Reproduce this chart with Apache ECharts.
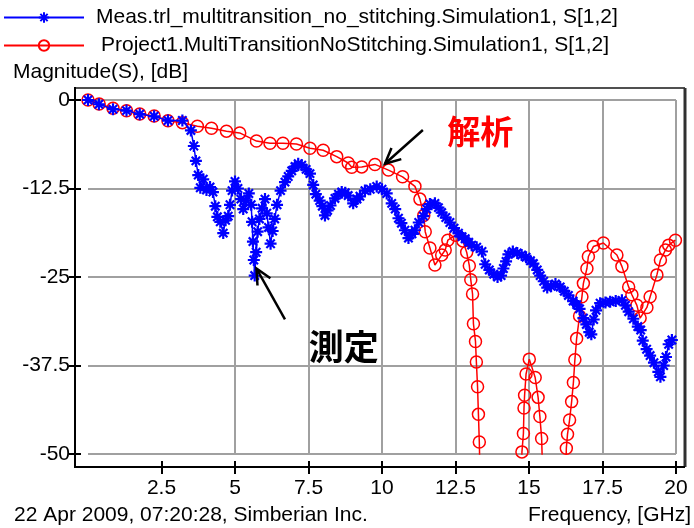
<!DOCTYPE html>
<html><head><meta charset="utf-8">
<script src="https://cdn.jsdelivr.net/npm/echarts@6/dist/echarts.min.js"></script>
<style>html,body{margin:0;padding:0;background:#fff}#c{width:694px;height:528px}</style>
</head><body><div id="c"></div>
<script>
// ---------- data ----------
const measName = 'Meas.trl_multitransition_no_stitching.Simulation1, S[1,2]';
const simName = 'Project1.MultiTransitionNoStitching.Simulation1, S[1,2]';
const measFreq = [0.00,0.37,0.85,1.31,1.76,2.25,2.72,3.21,3.50,3.60,3.67,3.75,3.82,3.92,4.03,4.15,4.25,4.33,4.40,4.50,4.60,4.68,4.77,4.83,4.90,5.00,5.10,5.20,5.28,5.38,5.47,5.55,5.58,5.61,5.64,5.67,5.72,5.77,5.83,5.92,6.02,6.08,6.14,6.21,6.28,6.35,6.43,6.55,6.70,6.81,6.93,7.04,7.15,7.27,7.42,7.55,7.66,7.75,7.88,7.97,8.06,8.15,8.25,8.40,8.52,8.63,8.75,8.85,9.02,9.15,9.25,9.42,9.60,9.82,10.00,10.16,10.33,10.45,10.56,10.66,10.78,10.90,11.02,11.12,11.25,11.41,11.52,11.63,11.80,11.92,12.03,12.17,12.31,12.45,12.60,12.72,12.83,12.95,13.05,13.22,13.40,13.51,13.65,13.80,13.93,14.05,14.13,14.22,14.30,14.45,14.60,14.75,14.90,15.05,15.15,15.28,15.38,15.50,15.62,15.75,15.90,16.06,16.20,16.34,16.50,16.62,16.72,16.85,16.95,17.05,17.12,17.20,17.28,17.42,17.60,17.76,17.95,18.16,18.28,18.39,18.55,18.70,18.80,18.87,19.00,19.12,19.25,19.40,19.47,19.58,19.66,19.75,19.86];
const measMag = [0.0,-0.6,-1.3,-1.5,-2.0,-2.3,-2.9,-2.9,-4.3,-6.5,-8.6,-10.6,-12.4,-11.2,-12.7,-12.3,-13.0,-15.0,-16.5,-17.2,-18.8,-17.0,-16.4,-14.8,-12.8,-11.5,-12.5,-14.0,-15.4,-14.2,-13.2,-14.8,-17.2,-20.0,-22.6,-24.8,-21.5,-18.6,-16.8,-15.3,-14.0,-16.0,-18.0,-20.3,-18.5,-16.8,-14.8,-12.8,-11.6,-10.8,-10.0,-9.4,-9.0,-9.2,-9.8,-10.4,-12.0,-13.3,-14.2,-15.0,-16.3,-15.6,-14.9,-13.9,-13.3,-13.0,-13.1,-13.5,-14.6,-14.0,-13.6,-12.8,-12.6,-12.2,-12.6,-13.2,-14.6,-15.4,-16.7,-17.4,-18.4,-19.5,-18.9,-18.4,-17.3,-16.4,-15.4,-14.7,-14.6,-15.2,-15.9,-16.6,-17.3,-18.1,-18.8,-19.3,-19.6,-20.1,-20.5,-20.8,-21.4,-23.2,-24.0,-24.6,-25.0,-24.8,-23.8,-22.8,-21.8,-21.4,-21.6,-21.9,-22.2,-22.7,-23.1,-24.0,-24.8,-25.6,-26.5,-26.3,-26.0,-26.4,-27.0,-27.6,-28.4,-28.9,-29.5,-30.8,-31.7,-32.8,-33.1,-31.0,-29.7,-28.7,-28.6,-28.5,-28.4,-28.3,-29.0,-29.9,-30.9,-32.0,-32.5,-34.0,-35.2,-36.1,-37.1,-38.4,-39.1,-37.5,-36.3,-34.5,-33.9];
const simFreq = [0.00,0.38,0.85,1.31,1.76,2.25,2.72,3.21,3.72,4.20,4.71,5.16,5.73,6.19,6.63,7.09,7.55,8.00,8.46,8.85,8.97,9.31,9.76,10.22,10.70,11.12,11.29,11.42,11.47,11.63,11.80,12.03,12.15,12.24,12.50,12.75,12.88,12.97,13.02,13.08,13.11,13.18,13.21,13.25,13.28,13.31,13.36,14.72,14.76,14.81,14.83,14.85,14.90,15.01,15.21,15.31,15.37,15.43,15.50,16.22,16.27,16.31,16.38,16.45,16.51,16.56,16.62,16.72,16.80,16.85,16.97,17.02,17.19,17.53,17.99,18.16,18.39,18.50,18.67,18.78,19.01,19.12,19.35,19.47,19.64,19.75,19.98];
const simMag = [0.0,-0.56,-1.17,-1.51,-1.98,-2.26,-2.92,-3.2,-3.7,-4.0,-4.4,-4.65,-5.8,-6.12,-6.12,-6.21,-6.82,-7.1,-8.0,-8.9,-9.5,-9.45,-9.1,-9.9,-10.85,-12.2,-14.0,-16.3,-18.6,-20.9,-23.3,-21.9,-21.2,-19.8,-19.1,-19.9,-21.5,-23.4,-25.4,-27.4,-31.6,-34.1,-37.0,-40.5,-44.4,-48.3,-58,-58,-49.7,-47.1,-43.5,-41.7,-38.7,-36.6,-39.2,-42.0,-44.7,-47.8,-58,-58,-49.2,-47.2,-45.2,-42.6,-39.9,-36.7,-33.7,-30.5,-27.8,-25.9,-23.8,-22.1,-20.7,-20.2,-21.9,-23.5,-26.4,-27.5,-29.0,-30.8,-29.3,-27.8,-24.7,-22.6,-21.2,-20.5,-19.8];
const xTicks = [2.5,5,7.5,10,12.5,15,17.5,20];
const yTicks = [0,-12.5,-25,-37.5,-50];
const yAxisTitle = 'Magnitude(S), [dB]';
const xAxisTitle = 'Frequency, [GHz]';
const footerText = '22 Apr 2009, 07:20:28, Simberian Inc.';
const noteSimText = '解析';
const noteSimLabel = [13.34, -4.4];
const noteSimArrow = [[11.39, -4.24], [10.1, -9.0]];
const noteMeasText = '測定';
const noteMeasLabel = [8.7, -34.9];
const noteMeasArrow = [[6.70, -31.0], [5.73, -23.8]];

// ---------- chart ----------
const FONT = 'Liberation Sans';
const FS = 21;
const chart = echarts.init(document.getElementById('c'), null, {renderer: 'canvas'});
const pair = (xs, ys) => xs.map((x, i) => [x, ys[i]]);
const star = 'path://M5,0L5,10M0,5L10,5M1.5,1.5L8.5,8.5M1.5,8.5L8.5,1.5';
const tickStyle = {color: '#000', width: 2};
const txt = {fontSize: FS, fontWeight: 'normal', color: '#000', fontFamily: FONT};
chart.setOption({
  animation: false,
  backgroundColor: '#fff',
  textStyle: {fontFamily: FONT},
  title: [
    {text: yAxisTitle, left: 13, top: 62, padding: 0, textStyle: txt},
    {text: footerText, left: 14, top: 505, padding: 0, textStyle: txt},
    {text: xAxisTitle, right: 3, top: 505, padding: 0, textStyle: txt}
  ],
  legend: [
    {data: [measName], left: 3, top: 7, padding: 0, itemWidth: 80, itemHeight: 13,
     textStyle: Object.assign({}, txt, {padding: [0,0,0,7]})},
    {data: [simName], left: 3, top: 35, padding: 0, itemWidth: 80, itemHeight: 13,
     textStyle: Object.assign({}, txt, {padding: [0,0,0,12]})}
  ],
  grid: {left: 88, right: 18, top: 100, bottom: 74, containLabel: false},
  xAxis: [
    {type: 'value', min: 0, max: 20, interval: 2.5, offset: 13, position: 'bottom',
      axisLine: {show: false, onZero: false},
      axisTick: {show: true, customValues: xTicks, length: 7, lineStyle: tickStyle},
      axisLabel: {customValues: xTicks, color: '#000', fontSize: FS, margin: 11, fontFamily: FONT},
      splitLine: {show: true, showMinLine: false, lineStyle: {color: '#a0a0a0', width: 2}}},
    {type: 'value', min: 0, max: 20, interval: 2.5, offset: 13, position: 'bottom',
      axisLine: {show: false, onZero: false},
      axisTick: {show: true, inside: true, customValues: xTicks, length: 6, lineStyle: tickStyle},
      axisLabel: {show: false}, splitLine: {show: false}}
  ],
  yAxis: [
    {type: 'value', min: -50, max: 0, interval: 12.5, offset: 13, position: 'left',
      axisLine: {show: false, onZero: false},
      axisTick: {show: true, customValues: yTicks, length: 6, lineStyle: tickStyle},
      axisLabel: {customValues: yTicks, color: '#000', fontSize: FS, margin: 5, fontFamily: FONT},
      splitLine: {show: true, lineStyle: {color: '#a0a0a0', width: 2}}},
    {type: 'value', min: -50, max: 0, interval: 12.5, offset: 13, position: 'left',
      axisLine: {show: false, onZero: false},
      axisTick: {show: true, inside: true, customValues: yTicks, length: 6, lineStyle: tickStyle},
      axisLabel: {show: false}, splitLine: {show: false}}
  ],
  series: [
    {name: simName, type: 'line', xAxisIndex: 0, yAxisIndex: 0, clip: true, z: 2,
     data: pair(simFreq, simMag), symbol: 'circle', symbolSize: 12, showAllSymbol: true,
     lineStyle: {color: '#ff0000', width: 1.5},
     itemStyle: {color: 'rgba(255,255,255,0)', borderColor: '#ff0000', borderWidth: 1.5}},
    {name: measName, type: 'line', xAxisIndex: 0, yAxisIndex: 0, clip: true, z: 3,
     data: pair(measFreq, measMag), symbol: star, symbolSize: 12, showAllSymbol: true,
     lineStyle: {color: '#0000ff', width: 1.5},
     itemStyle: {color: '#0000ff', borderColor: '#0000ff', borderWidth: 2.2}}
  ]
});

function px(p) { return chart.convertToPixel({gridIndex: 0}, p); }
const tl = px([0, 0]), br = px([20, -50]);
const L = tl[0] - 13, T = tl[1] - 12, R = br[0] + 9, B = br[1] + 13;
function arrow(tail, tip, color) {
  const a = px(tail), b = px(tip);
  const ang = Math.atan2(a[1] - b[1], a[0] - b[0]);
  const len = 17, spread = 0.45;
  const p1 = [b[0] + len * Math.cos(ang + spread), b[1] + len * Math.sin(ang + spread)];
  const p2 = [b[0] + len * Math.cos(ang - spread), b[1] + len * Math.sin(ang - spread)];
  return [
    {type: 'line', shape: {x1: a[0], y1: a[1], x2: b[0], y2: b[1]}, style: {stroke: color, lineWidth: 2.5}, z: 20},
    {type: 'polyline', shape: {points: [p1, b, p2]}, style: {stroke: color, lineWidth: 2.5, fill: null}, z: 20}
  ];
}
const sl = px(noteSimLabel), ml = px(noteMeasLabel);
chart.setOption({
  graphic: [
    {type: 'line', shape: {x1: L, y1: T, x2: R, y2: T}, style: {stroke: '#505050', lineWidth: 2}, z: 10},
    {type: 'line', shape: {x1: R, y1: T, x2: R, y2: B}, style: {stroke: '#303030', lineWidth: 3}, z: 10},
    {type: 'line', shape: {x1: L, y1: T - 1, x2: L, y2: B}, style: {stroke: '#000', lineWidth: 2}, z: 10},
    {type: 'line', shape: {x1: L - 1, y1: B, x2: R, y2: B}, style: {stroke: '#000', lineWidth: 2}, z: 10},
    ...arrow(noteSimArrow[0], noteSimArrow[1], '#000'),
    ...arrow(noteMeasArrow[0], noteMeasArrow[1], '#000'),
    {type: 'text', x: sl[0], y: sl[1], z: 20, style: {text: noteSimText, fill: '#ff0000', font: 'bold 33px "Noto Sans CJK JP"', align: 'center', verticalAlign: 'middle'}},
    {type: 'text', x: ml[0], y: ml[1], z: 20, style: {text: noteMeasText, fill: '#000', font: 'bold 35px "Noto Sans CJK JP"', align: 'center', verticalAlign: 'middle'}}
  ]
});
</script></body></html>
